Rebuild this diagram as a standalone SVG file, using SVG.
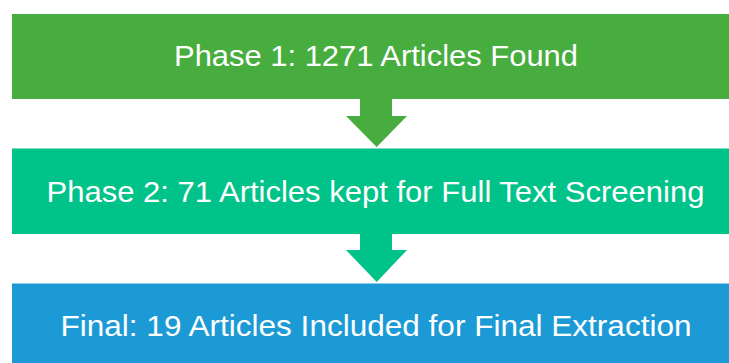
<svg xmlns="http://www.w3.org/2000/svg" width="729" height="363" viewBox="0 0 729 363">
  <style>
    .label { font-family: "Liberation Sans", Arial, sans-serif; font-size: 30px; fill: #ffffff; }
  </style>
  <rect width="729" height="363" fill="#ffffff"/>

  <g id="connectors">
    <!-- block arrow from phase 1 to phase 2 -->
    <polygon id="arrow-1-2" fill="#46AD3E" points="360,98 392,98 392,116 407,116 376.7,147 346,116 360,116"/>
    <!-- block arrow from phase 2 to final -->
    <polygon id="arrow-2-3" fill="#00C389" points="360,233 392,233 392,250 407,250 376.7,282 346,250 360,250"/>
  </g>

  <g id="phase1">
    <rect x="12" y="14" width="717" height="85" fill="#46AD3E"/>
    <text class="label" x="376" y="65.5" text-anchor="middle" textLength="404" lengthAdjust="spacingAndGlyphs">Phase 1: 1271 Articles Found</text>
  </g>

  <g id="phase2">
    <rect x="12" y="148.5" width="717" height="85.5" fill="#00C389"/>
    <text class="label" x="375.5" y="201.5" text-anchor="middle" textLength="658" lengthAdjust="spacingAndGlyphs">Phase 2: 71 Articles kept for Full Text Screening</text>
  </g>

  <g id="final">
    <rect x="12" y="283.5" width="717" height="80" fill="#1C9AD6"/>
    <text class="label" x="376" y="335.5" text-anchor="middle" textLength="631" lengthAdjust="spacingAndGlyphs">Final: 19 Articles Included for Final Extraction</text>
  </g>
</svg>
